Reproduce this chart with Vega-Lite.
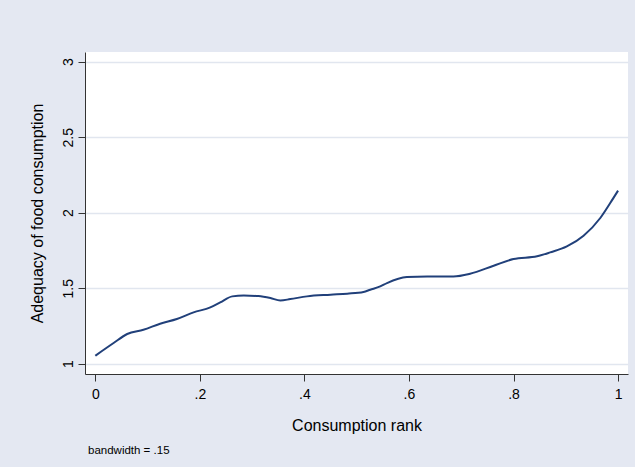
{
  "$schema": "https://vega.github.io/schema/vega-lite/v6.json",
  "width": 543,
  "height": 322,
  "autosize": "none",
  "padding": {"left": 85, "top": 52, "right": 7, "bottom": 93},
  "background": "#E4E8F2",
  "config": {
    "view": {"fill": "white", "stroke": null},
    "font": "Liberation Sans"
  },
  "title": {
    "text": "bandwidth = .15",
    "orient": "bottom",
    "anchor": "start",
    "frame": "group",
    "fontSize": 11.5,
    "fontWeight": "normal",
    "color": "#000000",
    "offset": 12,
    "dx": 3
  },
  "data": {
    "values": [
      {"rank": 0.0, "adequacy": 1.053},
      {"rank": 0.035, "adequacy": 1.137},
      {"rank": 0.061, "adequacy": 1.197},
      {"rank": 0.092, "adequacy": 1.225},
      {"rank": 0.124, "adequacy": 1.265},
      {"rank": 0.156, "adequacy": 1.296},
      {"rank": 0.188, "adequacy": 1.340},
      {"rank": 0.220, "adequacy": 1.373},
      {"rank": 0.239, "adequacy": 1.406},
      {"rank": 0.262, "adequacy": 1.446},
      {"rank": 0.284, "adequacy": 1.452},
      {"rank": 0.312, "adequacy": 1.448},
      {"rank": 0.335, "adequacy": 1.435},
      {"rank": 0.354, "adequacy": 1.419},
      {"rank": 0.373, "adequacy": 1.428},
      {"rank": 0.405, "adequacy": 1.446},
      {"rank": 0.450, "adequacy": 1.457},
      {"rank": 0.482, "adequacy": 1.464},
      {"rank": 0.513, "adequacy": 1.475},
      {"rank": 0.526, "adequacy": 1.490},
      {"rank": 0.545, "adequacy": 1.512},
      {"rank": 0.558, "adequacy": 1.534},
      {"rank": 0.596, "adequacy": 1.574},
      {"rank": 0.635, "adequacy": 1.578},
      {"rank": 0.685, "adequacy": 1.578},
      {"rank": 0.717, "adequacy": 1.596},
      {"rank": 0.762, "adequacy": 1.649},
      {"rank": 0.800, "adequacy": 1.693},
      {"rank": 0.845, "adequacy": 1.711},
      {"rank": 0.870, "adequacy": 1.737},
      {"rank": 0.902, "adequacy": 1.777},
      {"rank": 0.934, "adequacy": 1.848},
      {"rank": 0.966, "adequacy": 1.965},
      {"rank": 0.985, "adequacy": 2.064},
      {"rank": 1.0, "adequacy": 2.146}
    ]
  },
  "mark": {"type": "line", "interpolate": "monotone", "color": "#21407A", "strokeWidth": 2},
  "encoding": {
    "x": {
      "field": "rank",
      "type": "quantitative",
      "scale": {"domain": [-0.0197, 1.019], "nice": false, "zero": false},
      "axis": {
        "title": "Consumption rank",
        "values": [0, 0.2, 0.4, 0.6, 0.8, 1],
        "labelExpr": "datum.value == 0 ? '0' : datum.value == 1 ? '1' : '.' + round(datum.value * 10)",
        "grid": false,
        "domainColor": "#333333",
        "tickColor": "#333333",
        "tickSize": 7,
        "labelPadding": 6,
        "labelFontSize": 14,
        "labelColor": "#000000",
        "labelFlush": false,
        "titleFontSize": 16,
        "titleFontWeight": "normal",
        "titleColor": "#000000",
        "titlePadding": 16
      }
    },
    "y": {
      "field": "adequacy",
      "type": "quantitative",
      "scale": {"domain": [0.932, 3.064], "nice": false, "zero": false},
      "axis": {
        "title": "Adequacy of food consumption",
        "values": [1, 1.5, 2, 2.5, 3],
        "labelExpr": "format(datum.value, '~g')",
        "grid": true,
        "gridColor": "#E1E6EF",
        "gridWidth": 1.5,
        "domainColor": "#333333",
        "tickColor": "#333333",
        "tickSize": 7,
        "labelAngle": 270,
        "labelAlign": "center",
        "labelBaseline": "bottom",
        "labelPadding": 2.5,
        "labelFontSize": 14,
        "labelColor": "#000000",
        "labelFlush": false,
        "titleFontSize": 16,
        "titleFontWeight": "normal",
        "titleColor": "#000000",
        "titlePadding": 16
      }
    }
  }
}
